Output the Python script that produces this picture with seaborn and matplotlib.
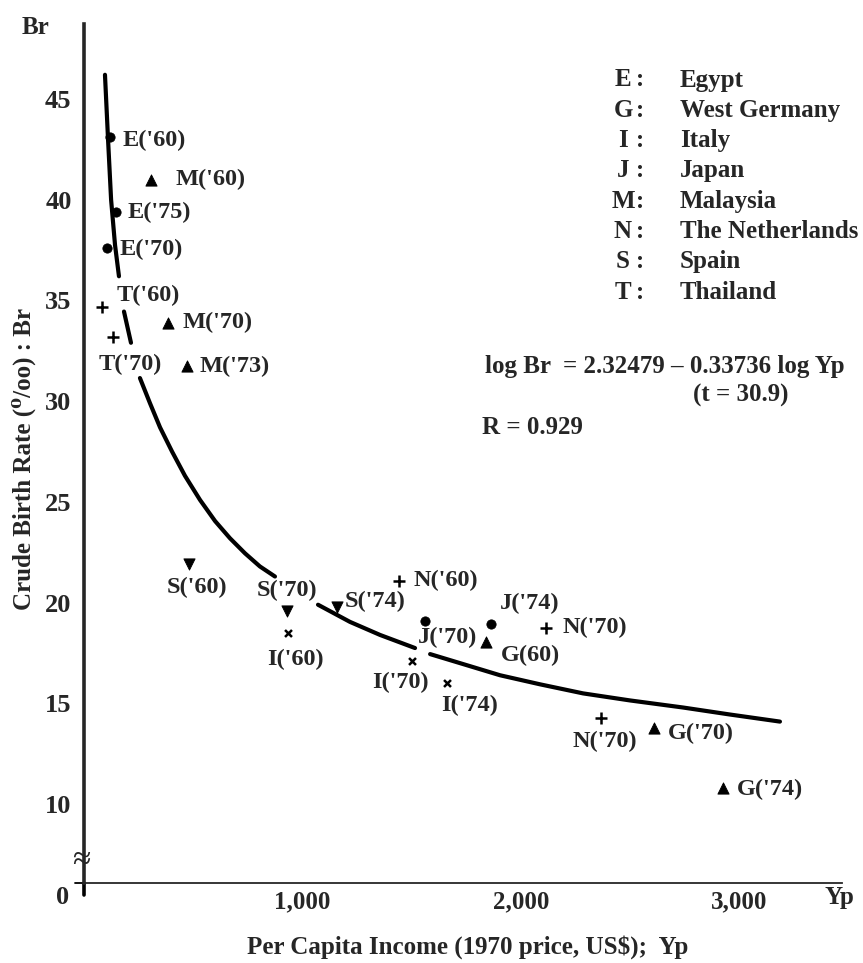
import matplotlib
matplotlib.use("Agg")
import matplotlib.pyplot as plt
import pandas as pd
import seaborn as sns

labels = ["E('60)", "E('75)", "E('70)", "M('60)", "M('70)", "M('73)", "T('60)", "T('70)",
          "S('60)", "S('70)", "S('74)", "I('60)", "I('70)", "I('74)", "J('70)", "J('74)",
          "G(60)", "G('70)", "G('74)", "N('60)", "N('70)", "N('70)"]
country = ["E", "E", "E", "M", "M", "M", "T", "T", "S", "S", "S", "I", "I", "I",
           "J", "J", "G", "G", "G", "N", "N", "N"]
yp = [119, 146, 105, 307, 384, 471, 82, 133, 481, 929, 1158, 934, 1501, 1661,
      1561, 1863, 1840, 2609, 2924, 1442, 2114, 2366]
br = [43.1, 39.4, 37.6, 41.0, 33.9, 31.75, 34.7, 33.2, 21.9, 19.6, 19.8, 18.5, 17.1, 16.0,
      19.1, 18.95, 18.05, 13.8, 10.8, 21.1, 18.75, 14.3]

# fitted curve (broken where labels sit on it)
curve_yp = [96, 110, 124, 142, 160,
            183, 215,
            256, 302, 348, 403, 462, 531, 600, 668, 737, 805, 874,
            1071, 1217, 1355, 1515,
            1584, 1767, 1904, 2087, 2284, 2499, 2741, 2957, 3185]
curve_br = [46.2, 43.0, 40.0, 37.75, 36.2,
            34.45, 32.9,
            31.15, 29.9, 28.7, 27.5, 26.3, 25.1, 24.05, 23.2, 22.45, 21.8, 21.3,
            19.9, 19.05, 18.4, 17.75,
            17.45, 16.85, 16.4, 15.95, 15.5, 15.15, 14.8, 14.45, 14.1]
curve_seg = [0] * 5 + [1] * 2 + [2] * 11 + [3] * 4 + [4] * 9

legend_keys = ["E", "G", "I", "J", "M", "N", "S", "T"]
legend_names = ["Egypt", "West Germany", "Italy", "Japan", "Malaysia",
                "The Netherlands", "Spain", "Thailand"]

y_ticks = [10, 15, 20, 25, 30, 35, 40, 45]
x_ticks = [1000, 2000, 3000]
x_ticklabels = ["1,000", "2,000", "3,000"]

# label placement (pixel offsets from the marker, alignment)
label_pos = {
    0: (13, -3, "left"), 1: (12, -1, "left"), 2: (13, -1, "left"),
    3: (24, 0, "left"), 4: (15, 0, "left"), 5: (13, -1, "left"),
    6: (15, 11, "left"), 7: (17, -28, "center"),
    8: (8, -23, "center"), 9: (0, 20, "center"), 10: (8, 5, "left"),
    11: (7, -27, "center"), 12: (-12, -21, "center"), 13: (23, -22, "center"),
    14: (22, -17, "center"), 15: (39, 20, "center"),
    16: (44, -13, "center"), 17: (14, -6, "left"), 18: (14, -1, "left"),
    19: (14, 0, "left"), 20: (17, 0, "left"), 21: (4, -24, "center"),
}

sns.set_style("white")
plt.rcParams["font.family"] = ["Liberation Serif", "DejaVu Serif"]
plt.rcParams["font.weight"] = "bold"
FS = 18
FS_PT = 17.5
FS_TICK = 19

df = pd.DataFrame({"label": labels, "country": country, "Yp": yp, "Br": br})
curve = pd.DataFrame({"Yp": curve_yp, "Br": curve_br, "seg": curve_seg})

W, H = 863, 963
fig = plt.figure(figsize=(W / 100, H / 100), dpi=100)
ax = fig.add_axes([84 / W, 1 - 883 / H, (842 - 84) / W, (883 - 24) / H])

sns.lineplot(data=curve, x="Yp", y="Br", units="seg", estimator=None, sort=False,
             color="black", linewidth=3, ax=ax, legend=False)

markers = {"o": ["E", "J"], "^": ["M", "G"], "+": ["T", "N"], "v": ["S"], "x": ["I"]}
sizes = {"o": 45, "^": 65, "+": 75, "v": 65, "x": 25}
for m, keys in markers.items():
    sub = df[df["country"].isin(keys)]
    if m in "+x":
        sns.scatterplot(data=sub, x="Yp", y="Br", marker=m, color="black",
                        s=sizes[m], linewidth=1.8, ax=ax, zorder=3)
    else:
        sns.scatterplot(data=sub, x="Yp", y="Br", marker=m, color="black",
                        edgecolor="black", s=sizes[m], ax=ax, zorder=3)

for i, row in df.iterrows():
    dx, dy, ha = label_pos[i]
    ax.annotate(row["label"], (row["Yp"], row["Br"]), xytext=(dx, dy),
                textcoords="offset pixels", ha=ha, va="center",
                fontsize=FS_PT, fontweight="bold")

ax.set_xlim(0, 3469)
ax.set_ylim(6.09, 48.72)
ax.set_yticks(y_ticks)
ax.set_yticklabels([str(v) for v in y_ticks], fontsize=FS_TICK, fontweight="bold")
ax.set_xticks(x_ticks)
ax.set_xticklabels(x_ticklabels, fontsize=FS, fontweight="bold")
ax.tick_params(axis="y", direction="in", length=5, width=1.5, pad=9)
ax.tick_params(axis="x", length=0, pad=5)
ax.set_xlabel("")
ax.set_ylabel("")
sns.despine(ax=ax)
ax.spines["left"].set_linewidth(2.6)
ax.spines["bottom"].set_linewidth(1.3)

# small overhangs of the axis lines past the origin, and the break mark
ax.plot([0, 0], [0, -0.014], transform=ax.transAxes, color="black", lw=2.6, clip_on=False)
ax.plot([-0.012, 0], [0, 0], transform=ax.transAxes, color="black", lw=1.3, clip_on=False)
ax.text(-0.004, 0.026, "≈", transform=ax.transAxes, ha="center", va="center",
        fontsize=24, fontweight="normal", clip_on=False)

# legend of country letters
for k, (key, name) in enumerate(zip(legend_keys, legend_names)):
    yy = 1 - (80 + 30.3 * k) / H
    fig.text(623 / W, yy, key, ha="center", va="center", fontsize=FS, fontweight="bold")
    fig.text(640 / W, yy, ":", ha="center", va="center", fontsize=FS, fontweight="bold")
    fig.text(680 / W, yy, name, ha="left", va="center", fontsize=FS, fontweight="bold")

fig.text(485 / W, 1 - 367 / H, "log Br  = 2.32479 \u2013 0.33736 log Yp",
         ha="left", va="center", fontsize=FS, fontweight="bold")
fig.text(741 / W, 1 - 395 / H, "(t = 30.9)", ha="center", va="center",
         fontsize=FS, fontweight="bold")
fig.text(532 / W, 1 - 427 / H, "R = 0.929", ha="center", va="center",
         fontsize=FS, fontweight="bold")

fig.text(35 / W, 1 - 27 / H, "Br", ha="center", va="center", fontsize=FS, fontweight="bold")
fig.text(63 / W, 1 - 897 / H, "0", ha="center", va="center", fontsize=FS_TICK, fontweight="bold")
fig.text(839 / W, 1 - 897 / H, "Yp", ha="center", va="center", fontsize=FS, fontweight="bold")
fig.text(24 / W, 1 - 459 / H, "Crude Birth Rate (\u2070/oo) : Br", rotation=90,
         ha="center", va="center", fontsize=FS, fontweight="bold")
fig.text(468 / W, 1 - 947 / H, "Per Capita Income (1970 price, US$);  Yp",
         ha="center", va="center", fontsize=FS, fontweight="bold")

fig.savefig("out.png", dpi=100, facecolor="white")
